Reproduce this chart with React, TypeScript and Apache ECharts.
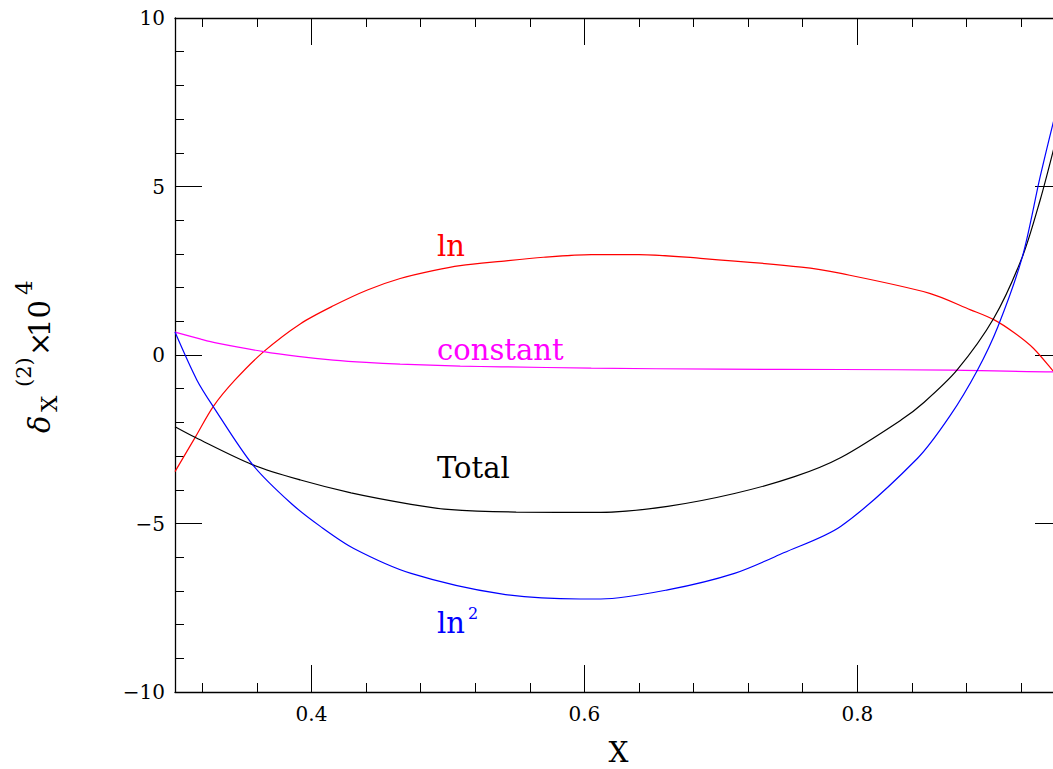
import { useEffect, useRef } from "react";
import * as echarts from "echarts";

// ---- data ----
const xLn = [0.3, 0.315, 0.328, 0.344, 0.365, 0.392, 0.416, 0.441, 0.465, 0.49, 0.509, 0.539, 0.57, 0.605, 0.64, 0.685, 0.759, 0.788, 0.853, 0.883, 0.9, 0.915, 0.929, 0.944, 0.95];
const yLn = [-3.46, -2.43, -1.53, -0.74, 0.1, 0.93, 1.46, 1.93, 2.27, 2.51, 2.65, 2.78, 2.9, 2.98, 2.98, 2.87, 2.61, 2.42, 1.83, 1.34, 1.05, 0.66, 0.2, -0.5, -0.8];

const xConst = [0.3, 0.319, 0.33, 0.365, 0.39, 0.416, 0.44, 0.465, 0.509, 0.539, 0.605, 0.7, 0.788, 0.87, 0.944, 0.95];
const yConst = [0.68, 0.47, 0.36, 0.1, -0.04, -0.15, -0.22, -0.27, -0.33, -0.35, -0.39, -0.42, -0.43, -0.45, -0.5, -0.5];

const xTotal = [0.3, 0.315, 0.357, 0.392, 0.429, 0.473, 0.5, 0.55, 0.612, 0.661, 0.71, 0.754, 0.788, 0.832, 0.849, 0.873, 0.9, 0.921, 0.934, 0.944, 0.95];
const yTotal = [-2.13, -2.45, -3.26, -3.71, -4.09, -4.43, -4.58, -4.66, -4.67, -4.49, -4.11, -3.61, -3.04, -1.93, -1.4, -0.45, 1.09, 2.92, 4.6, 6.13, 7.15];

const xLn2 = [0.3, 0.316, 0.328, 0.357, 0.385, 0.407, 0.431, 0.473, 0.539, 0.597, 0.612, 0.661, 0.71, 0.746, 0.788, 0.844, 0.868, 0.888, 0.903, 0.921, 0.934, 0.944, 0.95];
const yLn2 = [0.68, -0.74, -1.53, -3.26, -4.4, -5.1, -5.74, -6.48, -7.09, -7.24, -7.24, -6.97, -6.48, -5.87, -5.08, -3.07, -1.8, -0.45, 0.84, 2.92, 5.29, 6.97, 7.9];

const xMajorTicks = [0.4, 0.6, 0.8];
const xMinorTicks = [0.32, 0.36, 0.44, 0.48, 0.52, 0.56, 0.64, 0.68, 0.72, 0.76, 0.84, 0.88, 0.92];
const yMin = -10;
const yMax = 10;
const yInterval = 5;

const pairs = (xs: number[], ys: number[]) => xs.map((x, i) => [x, ys[i]]);

const FONT = "DejaVu Serif";

export default function App() {
  const ref = useRef<HTMLDivElement>(null);

  useEffect(() => {
    if (!ref.current) return;
    const chart = echarts.init(ref.current, null, { renderer: "svg" });

    const lineStyle = { color: "#000", width: 1.3 };
    const tickStyle = { color: "#000", width: 1 };

    const xAxisBase = (position: "bottom" | "top", major: boolean, showLine: boolean, showLabel: boolean) => ({
      type: "value",
      position,
      min: 0.3,
      max: 0.95,
      splitLine: { show: false },
      axisLine: { show: showLine, onZero: false, lineStyle },
      axisTick: {
        show: true,
        inside: true,
        length: major ? 27 : 9,
        customValues: major ? xMajorTicks : xMinorTicks,
        lineStyle: tickStyle,
      },
      axisLabel: showLabel
        ? {
            show: true,
            customValues: xMajorTicks,
            formatter: (v: number) => v.toFixed(1),
            fontFamily: FONT,
            fontSize: 20,
            color: "#000",
            margin: 12,
          }
        : { show: false },
    });

    const yAxisBase = (position: "left" | "right", showLabel: boolean) => ({
      type: "value",
      position,
      min: yMin,
      max: yMax,
      interval: yInterval,
      splitLine: { show: false },
      axisLine: { show: true, onZero: false, lineStyle },
      axisTick: { show: true, inside: true, length: 27, lineStyle: tickStyle },
      minorTick: { show: true, splitNumber: 5, length: 9, lineStyle: tickStyle },
      minorSplitLine: { show: false },
      axisLabel: showLabel
        ? {
            show: true,
            formatter: (v: number) => String(v).replace("-", "\u2212"),
            fontFamily: FONT,
            fontSize: 20,
            color: "#000",
            margin: 10,
          }
        : { show: false },
    });

    const xName = {
      name: "X",
      nameLocation: "middle",
      nameGap: 46,
      nameTextStyle: { fontFamily: FONT, fontSize: 28, color: "#000" },
    };

    const seriesLine = (name: string, color: string, data: number[][]) => ({
      name,
      type: "line",
      data,
      xAxisIndex: 0,
      yAxisIndex: 0,
      showSymbol: false,
      symbol: "none",
      smooth: 0.3,
      lineStyle: { color, width: 1.2 },
      z: 3,
    });

    const fs = 29;
    const central = (baseline: number, size: number) => baseline - 0.346 * size;

    const txt = (x: number, baseline: number, text: string, color: string, size = fs, extra: any = {}) => ({
      type: "text",
      x,
      y: central(baseline, size),
      style: {
        text,
        fill: color,
        font: `${extra.italic ? "italic " : ""}${size}px "${FONT}"`,
        align: "left",
        verticalAlign: "middle",
      },
    });

    chart.setOption({
      animation: false,
      backgroundColor: "#fff",
      grid: { left: 175, top: 18, width: 887, height: 674, containLabel: false, outerBoundsMode: "none" },
      xAxis: [
        { ...xAxisBase("bottom", true, true, true), ...xName },
        xAxisBase("bottom", false, false, false),
        xAxisBase("top", true, true, false),
        xAxisBase("top", false, false, false),
      ],
      yAxis: [yAxisBase("left", true), yAxisBase("right", false)],
      series: [
        seriesLine("ln", "#ff0000", pairs(xLn, yLn)),
        seriesLine("constant", "#ff00ff", pairs(xConst, yConst)),
        seriesLine("Total", "#000000", pairs(xTotal, yTotal)),
        seriesLine("ln2", "#0000ff", pairs(xLn2, yLn2)),
      ],
      graphic: [
        txt(437, 256, "ln", "#ff0000"),
        txt(437, 360, "constant", "#ff00ff"),
        txt(437, 478, "Total", "#000000"),
        txt(437, 633, "ln", "#0000ff"),
        txt(468, 619, "2", "#0000ff", 16),
        {
          type: "group",
          x: 50,
          y: 433,
          rotation: Math.PI / 2,
          children: [
            txt(0, 0, "\u03b4", "#000", 29, { italic: true }),
            txt(21, 7, "X", "#000", 23),
            txt(46, -19, "(2)", "#000", 21),
            txt(77, 0, "\u00d7", "#000", 29),
            txt(96, 0, "10", "#000", 29),
            txt(138, -18, "4", "#000", 23),
          ],
        },
      ],
    });

    return () => chart.dispose();
  }, []);

  return (
    <div style={{ position: "fixed", left: 0, top: 0, width: 1053, height: 769, overflow: "hidden", background: "#fff" }}>
      <div ref={ref} style={{ width: 1080, height: 769 }} />
    </div>
  );
}
